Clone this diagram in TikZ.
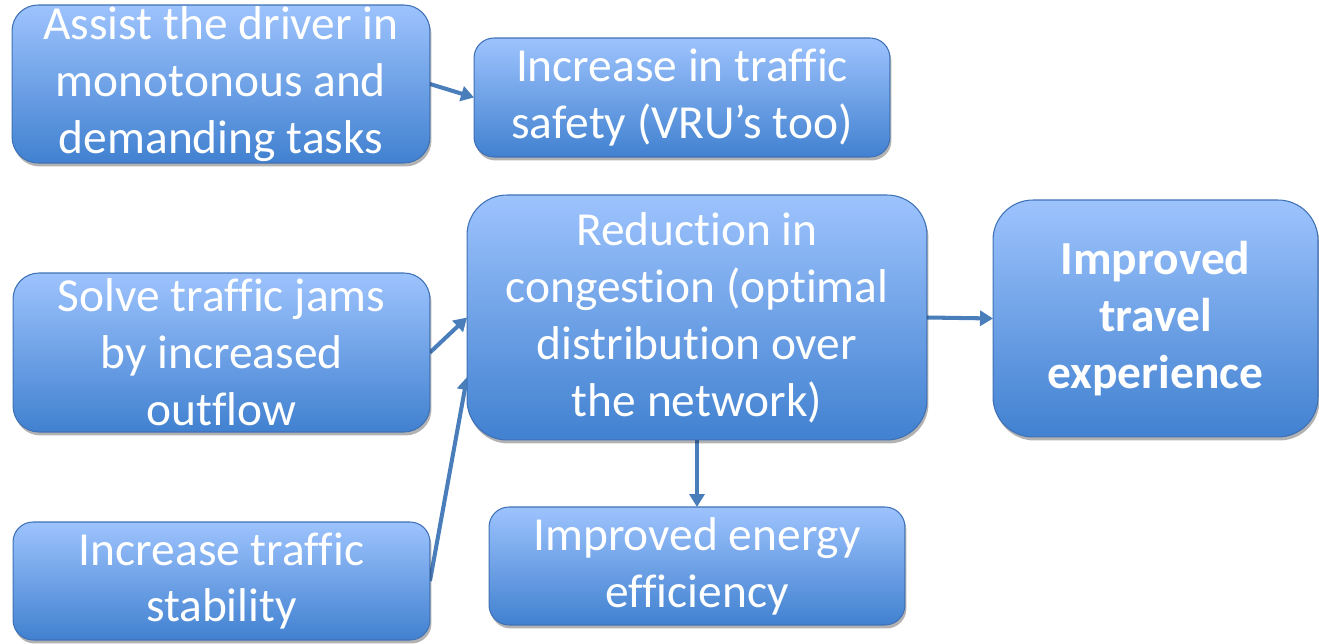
\documentclass[tikz,border=0pt]{standalone}
\usepackage{fontspec}
\setmainfont{Carlito}[Ligatures=NoCommon]
\usepackage{tikz}
\usetikzlibrary{arrows.meta,shadows}
\definecolor{boxtop}{HTML}{9DC3FD}
\definecolor{boxbottom}{HTML}{4181D0}
\definecolor{boxline}{HTML}{3E71B6}
\definecolor{arrowblue}{HTML}{4A7EBB}
\pgfdeclarelayer{nodelayer}
\pgfdeclarelayer{edgelayer}
\pgfsetlayers{edgelayer,nodelayer,main}
\tikzstyle{new style}=[draw=boxline, line width=0.6pt, top color=boxtop, bottom color=boxbottom, shape=rectangle, rounded corners=0.52cm, inner sep=0pt, outer sep=0pt, align=center, text=white, font=\fontsize{27}{32.4}\selectfont, drop shadow={shadow xshift=0.03cm, shadow yshift=-0.07cm, opacity=0.3, fill=black}]
\tikzstyle{new style 0}=[style=new style, rounded corners=0.4cm]
\tikzstyle{new style 1}=[style=new style, rounded corners=0.8cm]
\tikzstyle{new edge style 0}=[draw=arrowblue, line width=2.3pt, -{Triangle[length=0.26cm, width=0.3cm]}]

\begin{document}
\begin{tikzpicture}[x=0.02cm, y=-0.02cm]
	\useasboundingbox (0, 0) rectangle (1319, 644);
	\begin{pgfonlayer}{nodelayer}
		\node [style=new style, minimum width=8.36cm, minimum height=3.16cm] (0) at (221, 84) {Assist the driver in\\monotonous and\\demanding tasks};
		\node [style=new style 0, minimum width=8.32cm, minimum height=2.38cm] (1) at (682, 97.5) {Increase in traffic\\safety (VRU’s too)};
		\node [style=new style, minimum width=8.34cm, minimum height=3.18cm] (2) at (221.5, 352.5) {Solve traffic jams\\by increased\\outflow};
		\node [style=new style 0, minimum width=8.34cm, minimum height=2.36cm] (3) at (221.5, 581) {Increase traffic\\stability};
		\node [style=new style 1, minimum width=9.2cm, minimum height=4.9cm] (4) at (697, 317.5) {Reduction in\\congestion (optimal\\distribution over\\the network)};
		\node [style=new style 0, minimum width=8.32cm, minimum height=2.36cm] (5) at (697, 566) {Improved energy\\efficiency};
		\node [style=new style 1, minimum width=6.5cm, minimum height=4.74cm, font=\fontsize{27}{32.4}\selectfont\bfseries] (6) at (1155.5, 318.5) {Improved\\travel\\experience};
	\end{pgfonlayer}
	\begin{pgfonlayer}{edgelayer}
		\draw [style=new edge style 0] (0.east) to (1.west);
		\draw [style=new edge style 0] (2.east) to (4.west);
		\draw [style=new edge style 0] (3.east) to ([yshift=-1.19cm]4.west);
		\draw [style=new edge style 0] (4.east) to (6.west);
		\draw [style=new edge style 0] (4.south) to (5.north);
	\end{pgfonlayer}
\end{tikzpicture}
\end{document}
